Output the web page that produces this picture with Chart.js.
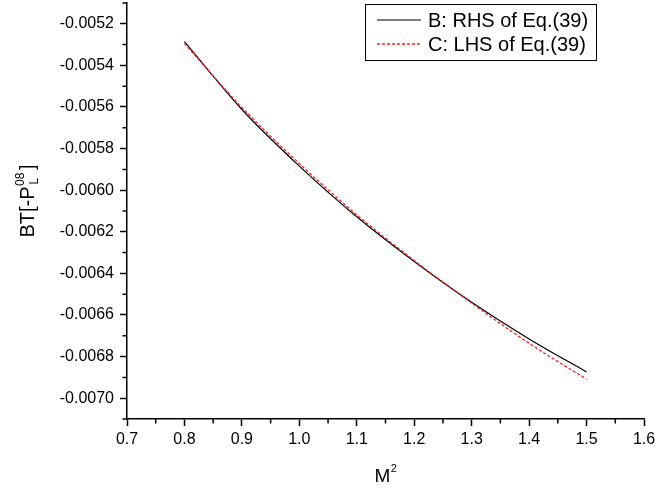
<!DOCTYPE html>
<html><head><meta charset="utf-8">
<script src="https://cdn.jsdelivr.net/npm/chart.js@4"></script>
<style>html,body{margin:0;padding:0;background:#fff}</style>
</head><body>
<canvas id="c" width="656" height="491" style="width:656px;height:491px;display:block"></canvas>
<script>
// ---- data ----
const xValues = [0.8, 0.9, 1.0, 1.1, 1.2, 1.3, 1.4, 1.5];
const seriesB = [-0.005286, -0.005612, -0.005884, -0.006128, -0.006343, -0.006539, -0.006715, -0.006874];
const seriesC = [-0.005295, -0.005602, -0.005872, -0.006118, -0.006338, -0.006543, -0.006736, -0.006909];
const seriesLabels = ['B: RHS of Eq.(39)', 'C: LHS of Eq.(39)'];
const xTicks = [0.7, 0.8, 0.9, 1.0, 1.1, 1.2, 1.3, 1.4, 1.5, 1.6];
const xMinorTicks = [0.75, 0.85, 0.95, 1.05, 1.15, 1.25, 1.35, 1.45, 1.55];
const yTicks = [-0.0070, -0.0068, -0.0066, -0.0064, -0.0062, -0.0060, -0.0058, -0.0056, -0.0054, -0.0052];
const yMinorTicks = [-0.0071, -0.0069, -0.0067, -0.0065, -0.0063, -0.0061, -0.0059, -0.0057, -0.0055, -0.0053, -0.0051];

const FONT = '"Liberation Sans", Arial, Helvetica, sans-serif';
const COLOR_B = '#000000';
const COLOR_C = '#ff2020';

const extras = {
  id: 'extras',
  afterDraw(chart) {
    const ctx = chart.ctx;
    const xs = chart.scales.x, ys = chart.scales.y;
    const ca = chart.chartArea;
    ctx.save();
    ctx.strokeStyle = '#000';
    ctx.lineWidth = 1.5;
    ctx.setLineDash([]);
    // minor ticks
    ctx.beginPath();
    xMinorTicks.forEach(v => {
      const px = xs.getPixelForValue(v);
      ctx.moveTo(px, ca.bottom); ctx.lineTo(px, ca.bottom + 4.5);
    });
    yMinorTicks.forEach(v => {
      const py = ys.getPixelForValue(v);
      ctx.moveTo(ca.left, py); ctx.lineTo(ca.left - 4.5, py);
    });
    ctx.stroke();

    // legend
    const lx = 365, ly = 4, lw = 231, lh = 56;
    ctx.fillStyle = '#fff';
    ctx.fillRect(lx, ly, lw, lh);
    ctx.lineWidth = 1;
    ctx.strokeStyle = '#000';
    ctx.strokeRect(lx + 0.5, ly + 0.5, lw, lh);
    const styles = [
      { color: COLOR_B, width: 1.2, dash: [] },
      { color: COLOR_C, width: 1.3, dash: [3, 2] }
    ];
    seriesLabels.forEach((label, i) => {
      const yy = ly + 16 + i * 24;
      const st = styles[i];
      ctx.beginPath();
      ctx.strokeStyle = st.color;
      ctx.lineWidth = st.width;
      ctx.setLineDash(st.dash);
      ctx.moveTo(377, yy); ctx.lineTo(421, yy);
      ctx.stroke();
      ctx.setLineDash([]);
      ctx.fillStyle = '#000';
      ctx.font = '20px ' + FONT;
      ctx.textBaseline = 'middle';
      ctx.textAlign = 'left';
      ctx.fillText(label, 428, yy + 1);
    });

    // x title: M^2
    ctx.fillStyle = '#000';
    ctx.textBaseline = 'alphabetic';
    ctx.textAlign = 'left';
    ctx.font = '19px ' + FONT;
    const mW = ctx.measureText('M').width;
    ctx.font = '11px ' + FONT;
    const sW = ctx.measureText('2').width;
    const cx = (ca.left + ca.right) / 2;
    const startX = cx - (mW + sW) / 2;
    ctx.font = '19px ' + FONT;
    ctx.fillText('M', startX, 482);
    ctx.font = '11px ' + FONT;
    ctx.fillText('2', startX + mW + 0.5, 472);

    // y title: BT[-P^08_L]
    ctx.save();
    ctx.translate(34, (ca.top + ca.bottom) / 2 - 10);
    ctx.rotate(-Math.PI / 2);
    ctx.font = '20px ' + FONT;
    const a = 'BT[-P';
    const aW = ctx.measureText(a).width;
    ctx.font = '12px ' + FONT;
    const supW = ctx.measureText('08').width;
    const subW = ctx.measureText('L').width;
    ctx.font = '20px ' + FONT;
    const bW = ctx.measureText(']').width;
    const gap = 3;
    const total = aW + Math.max(supW, subW) + gap + bW;
    let x0 = -total / 2;
    ctx.fillText(a, x0, 0);
    ctx.font = '12px ' + FONT;
    ctx.fillText('08', x0 + aW + 0.5, -10);
    ctx.fillText('L', x0 + aW + 2, 4);
    ctx.font = '20px ' + FONT;
    ctx.fillText(']', x0 + aW + Math.max(supW, subW) + gap, 0);
    ctx.restore();

    ctx.restore();
  }
};

new Chart(document.getElementById('c'), {
  type: 'line',
  data: {
    datasets: [
      {
        label: seriesLabels[0],
        data: xValues.map((x, i) => ({ x: x, y: seriesB[i] })),
        borderColor: COLOR_B,
        borderWidth: 1.2,
        pointRadius: 0,
        cubicInterpolationMode: 'monotone',
        fill: false,
        order: 1
      },
      {
        label: seriesLabels[1],
        data: xValues.map((x, i) => ({ x: x, y: seriesC[i] })),
        borderColor: COLOR_C,
        borderWidth: 1.3,
        borderDash: [3, 2],
        pointRadius: 0,
        cubicInterpolationMode: 'monotone',
        fill: false,
        order: 0
      }
    ]
  },
  options: {
    responsive: false,
    animation: false,
    devicePixelRatio: 1,
    layout: { padding: { top: 3, right: 12, left: 0, bottom: 0 } },
    plugins: { legend: { display: false }, tooltip: { enabled: false } },
    scales: {
      x: {
        type: 'linear',
        min: 0.7, max: 1.6,
        afterBuildTicks: s => { s.ticks = xTicks.map(v => ({ value: v })); },
        afterFit: s => { s.height = 72; s.paddingLeft = 0; s.paddingRight = 0; },
        grid: { display: true, drawOnChartArea: false, drawTicks: true, tickLength: 7, tickColor: '#000', tickWidth: 1.5 },
        border: { display: true, color: '#000', width: 1.5 },
        ticks: { color: '#000', font: { family: FONT, size: 16 }, padding: 4, maxRotation: 0, autoSkip: false,
                 callback: v => Number(v).toFixed(1) }
      },
      y: {
        type: 'linear',
        min: -0.0071, max: -0.0051,
        afterBuildTicks: s => { s.ticks = yTicks.map(v => ({ value: v })); },
        afterFit: s => { s.width = 127; s.paddingTop = 0; s.paddingBottom = 0; },
        grid: { display: true, drawOnChartArea: false, drawTicks: true, tickLength: 7, tickColor: '#000', tickWidth: 1.5 },
        border: { display: true, color: '#000', width: 1.5 },
        ticks: { color: '#000', font: { family: FONT, size: 16 }, padding: 6, autoSkip: false,
                 callback: v => Number(v).toFixed(4) }
      }
    }
  },
  plugins: [extras]
});
</script>
</body></html>
